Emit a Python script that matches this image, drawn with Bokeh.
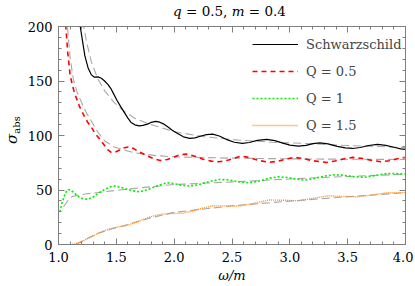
from bokeh.plotting import figure
from bokeh.models import (Range1d, LinearAxis, FixedTicker, PrintfTickFormatter,
                          CustomJSTickFormatter, Legend, LegendItem, Div)
from bokeh.layouts import column, row
from bokeh.embed import file_html
from bokeh.resources import INLINE

# ---------------- data ----------------
schw_w = [1.17, 1.185, 1.228, 1.256, 1.285, 1.31, 1.342, 1.37, 1.399, 1.43, 1.456, 1.48,
          1.509, 1.54, 1.57, 1.6, 1.627, 1.66, 1.698, 1.73, 1.769, 1.8, 1.84, 1.875, 1.912,
          1.95, 1.983, 2.026, 2.08, 2.134, 2.18, 2.24, 2.28, 2.333, 2.39, 2.45, 2.52, 2.59,
          2.65, 2.72, 2.8, 2.87, 2.94, 3.0, 3.074, 3.14, 3.2, 3.26, 3.33, 3.41, 3.48, 3.544,
          3.61, 3.68, 3.758, 3.83, 3.9, 3.96, 4.0]
schw_s = [212, 202, 173, 162, 155.6, 153.5, 153.8, 152.5, 150, 146.5, 142.5, 137.5,
          131.7, 126, 121, 116, 112, 109.8, 108.8, 109.3, 110.4, 112, 112.9, 112.2, 110.4,
          107.5, 104.9, 102, 98.8, 97.3, 97.8, 99.8, 100.8, 101.2, 99.5, 96.5, 93.8, 92.7,
          93.6, 95.5, 96.4, 95.3, 93, 91.2, 90.2, 91, 92.6, 93.3, 92.3, 90, 88.6, 88.1,
          89, 90.8, 91.8, 90.9, 89.2, 87.8, 87.2]
schw_gw = [1.21, 1.24, 1.285, 1.342, 1.399, 1.484, 1.57, 1.66, 1.769, 1.883, 2.0, 2.25,
           2.56, 2.85, 3.13, 3.5, 4.0]
schw_gs = [205, 187, 167, 151.6, 141, 130, 122, 115.9, 111, 107.4, 103.5, 99,
           95.7, 93.8, 92.7, 90.8, 89]

q05_w = [1.055, 1.063, 1.08, 1.1, 1.12, 1.142, 1.18, 1.214, 1.25, 1.285, 1.32, 1.356, 1.4,
         1.43, 1.456, 1.49, 1.53, 1.57, 1.613, 1.65, 1.7, 1.755, 1.82, 1.88, 1.94, 2.0,
         2.05, 2.105, 2.17, 2.25, 2.32, 2.39, 2.47, 2.575, 2.65, 2.73, 2.818, 2.9, 2.97,
         3.045, 3.12, 3.2, 3.316, 3.39, 3.47, 3.544, 3.62, 3.7, 3.786, 3.86, 3.93, 4.0]
q05_s = [210, 200, 176, 156, 146, 137.9, 127, 119.6, 112.5, 107.4, 101.5, 96.7, 90.5,
         86.5, 84.5, 84.8, 86.6, 88.8, 89.6, 88, 84.8, 82, 78.8, 77, 78, 80.3,
         82.3, 82.9, 81.2, 78.3, 76.5, 75.9, 77.5, 81.1, 79.8, 77.2, 75.3, 76.5, 78.5,
         79.9, 78.8, 76.8, 75.3, 76.6, 78.6, 79.9, 79, 77.3, 75.9, 76.9, 78.6, 79.9]
q05_gw = [1.07, 1.077, 1.1, 1.128, 1.16, 1.2, 1.24, 1.285, 1.34, 1.4, 1.48, 1.57, 1.65,
          1.74, 1.85, 2.0, 2.5, 3.0, 3.5, 4.0]
q05_gs = [210, 200, 172, 151.6, 140, 130, 121, 113, 103, 95, 89.5, 86.6, 84.3,
          82.9, 81.5, 80.4, 79.2, 78.6, 78.2, 78]

q1_w = [1.012, 1.03, 1.043, 1.06, 1.085, 1.11, 1.142, 1.17, 1.2, 1.252, 1.3, 1.342, 1.4,
        1.45, 1.484, 1.53, 1.598, 1.684, 1.74, 1.8, 1.87, 1.94, 1.99, 2.06, 2.134, 2.2,
        2.3, 2.39, 2.47, 2.56, 2.647, 2.73, 2.82, 2.903, 2.98, 3.05, 3.131, 3.21, 3.3,
        3.387, 3.46, 3.55, 3.644, 3.74, 3.843, 3.92, 4.0]
q1_s = [30, 38, 42.3, 47.5, 50.5, 49.5, 46.9, 44, 42.3, 41.4, 43.5, 46.9, 50.5,
        53, 53.6, 52.7, 50.5, 48.4, 49.3, 51.5, 54.5, 56.6, 56, 54.5, 53.6, 54.6,
        57.7, 59.7, 59.3, 57.5, 56.6, 58, 60.8, 62.1, 61.5, 60, 59.1, 60.5, 62.8,
        64, 63.5, 62.2, 61.6, 63.3, 65.2, 65, 64.6]
q1_gw = [1.043, 1.08, 1.114, 1.17, 1.228, 1.4, 1.57, 1.8, 2.0, 2.56, 3.13, 3.6, 4.0]
q1_gs = [34.6, 40, 43.8, 45.3, 46.3, 48.4, 50.5, 53, 55, 57.7, 60.8, 62.8, 64.5]

q15_w = [1.1, 1.13, 1.15, 1.2, 1.228, 1.28, 1.342, 1.4, 1.456, 1.51, 1.57, 1.63, 1.684,
         1.74, 1.797, 1.85, 1.912, 1.97, 2.026, 2.077, 2.15, 2.24, 2.333, 2.45, 2.56,
         2.68, 2.818, 2.95, 3.074, 3.2, 3.33, 3.46, 3.587, 3.72, 3.843, 4.0]
q15_s = [0, 0.3, 0.8, 2.6, 4.1, 7, 10.3, 12.8, 14.8, 16, 16.9, 18.8, 20.9,
         23.3, 25.5, 27, 27.9, 28.4, 28.6, 28.8, 30.5, 33.2, 35.5, 35.4, 35.3,
         37.5, 40.8, 40.6, 40.1, 42.3, 44.7, 44.1, 43.8, 45.6, 47.5, 47.6]
q15_gw = [1.15, 1.25, 1.35, 1.45, 1.57, 1.7, 1.8, 2.0, 2.5, 3.0, 3.5, 4.0]
q15_gs = [0, 5.5, 10.5, 14, 17.5, 21.5, 24.5, 29.5, 35.5, 39.8, 43.8, 47.5]

x_ticks = [1.0, 1.5, 2.0, 2.5, 3.0, 3.5, 4.0]
y_ticks = [0, 50, 100, 150, 200]
legend_labels = ["Schwarzschild", "Q = 0.5", "Q = 1", "Q = 1.5"]

# ---------------- figure ----------------
FONT = "DejaVu Serif"
CSS_FONT = "'DejaVu Serif',serif"
FRAME = "#808080"
GRAY = "#a8a8a8"

p = figure(width=389, height=276, output_backend="svg", toolbar_location=None,
           x_range=Range1d(1, 4), y_range=Range1d(0, 200),
           min_border_left=30, min_border_right=8, min_border_top=16, min_border_bottom=42)
p.xgrid.visible = False
p.ygrid.visible = False
p.outline_line_color = FRAME
p.background_fill_color = "white"
p.border_fill_color = None

bottom_ax = p.below[0]
left_ax = p.left[0]
top_ax = LinearAxis()
right_ax = LinearAxis()
p.add_layout(top_ax, "above")
p.add_layout(right_ax, "right")

x_minor = [round(1.0 + 0.1 * i, 2) for i in range(31)]
y_minor = [10 * i for i in range(21)]

for ax in [bottom_ax, top_ax]:
    ax.ticker = FixedTicker(ticks=x_ticks, minor_ticks=x_minor)
for ax in [left_ax, right_ax]:
    ax.ticker = FixedTicker(ticks=y_ticks, minor_ticks=y_minor)
bottom_ax.formatter = PrintfTickFormatter(format="%.1f")

for ax in [bottom_ax, left_ax, top_ax, right_ax]:
    ax.axis_line_color = FRAME
    ax.major_tick_line_color = FRAME
    ax.minor_tick_line_color = FRAME
    ax.major_tick_in = 6
    ax.major_tick_out = 0
    ax.minor_tick_in = 3
    ax.minor_tick_out = 0
    ax.major_label_text_font = FONT
    ax.major_label_text_font_size = "13px"
    ax.major_label_text_color = "black"
    ax.axis_label = None

for ax in [top_ax, right_ax]:
    ax.formatter = CustomJSTickFormatter(code="return ''")
    ax.major_label_standoff = 0

bottom_ax.major_label_standoff = 7
left_ax.major_label_standoff = 6

# x axis title drawn by the axis itself
bottom_ax.axis_label = "\u03c9/m"
bottom_ax.axis_label_text_font = FONT
bottom_ax.axis_label_text_font_size = "13px"
bottom_ax.axis_label_text_font_style = "italic"
bottom_ax.axis_label_text_color = "black"
bottom_ax.axis_label_standoff = 3

# gray approximations first
p.line(schw_gw, schw_gs, line_color=GRAY, line_width=1.1, line_dash="8 4")
p.line(q05_gw, q05_gs, line_color=GRAY, line_width=1.1, line_dash="8 4")
p.line(q1_gw, q1_gs, line_color=GRAY, line_width=1.1, line_dash="8 4")
p.line(q15_gw, q15_gs, line_color=GRAY, line_width=1.1, line_dash="8 4")

r0 = p.line(schw_w, schw_s, line_color="black", line_width=1.2)
r1 = p.line(q05_w, q05_s, line_color="#ff0000", line_width=1.6, line_dash="5 4")
r2 = p.line(q1_w, q1_s, line_color="#00ee00", line_width=1.6, line_dash="2 2")
r3 = p.line(q15_w, q15_s, line_color="#ff8c1a", line_width=1.4, line_dash="1 1")

legend = Legend(items=[LegendItem(label=legend_labels[i], renderers=[r])
                       for i, r in enumerate([r0, r1, r2, r3])],
                location=(194, 109), padding=0, margin=0,
                border_line_alpha=0, background_fill_alpha=0,
                glyph_width=46, glyph_height=20, label_height=20, spacing=7,
                label_standoff=8, label_text_font=FONT, label_text_font_size="13px")
p.add_layout(legend)

# ---------------- texts around the plot ----------------
title_div = Div(width=413, height=10, margin=0, text=(
    "<div style=\"margin-left:54px;width:351px;text-align:center;white-space:nowrap;"
    "font-family:" + CSS_FONT + ";font-size:13.5px;line-height:23px;color:black\">"
    "<i>q</i> = 0.5, <i>m</i> = 0.4</div>"))

ylab_div = Div(width=24, height=276, margin=0, text=(
    "<div style=\"position:relative;width:24px;height:276px\">"
    "<div style=\"position:absolute;left:14px;top:120px;transform:translate(-50%,-50%) rotate(-90deg);"
    "white-space:nowrap;font-family:" + CSS_FONT + ";font-size:15px;line-height:16px;color:black\">"
    "<i>\u03c3</i><span style=\"font-size:10px;vertical-align:-3px\">abs</span></div></div>"))

layout = column(title_div, row(ylab_div, p, spacing=0), spacing=0)

open("out.html", "w").write(file_html(layout, INLINE))
